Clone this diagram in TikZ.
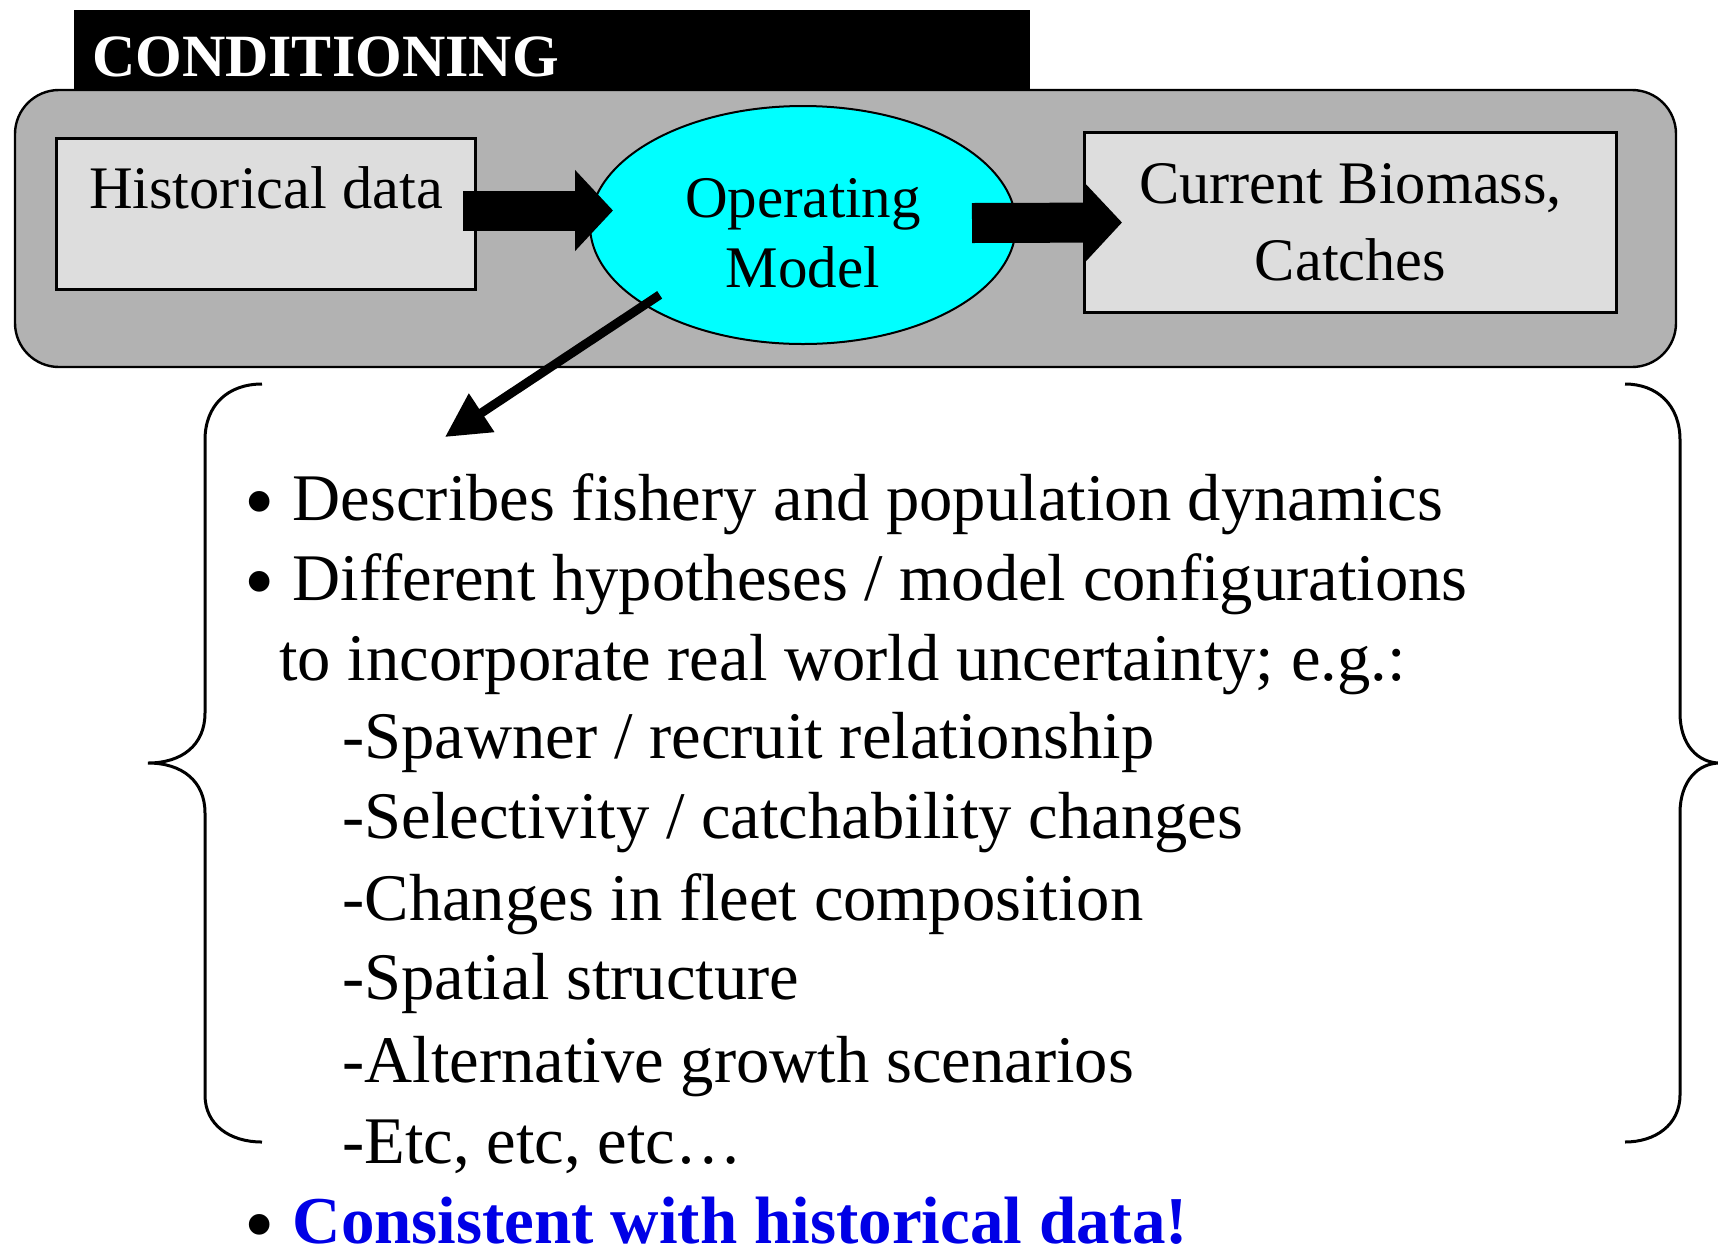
\documentclass[tikz,border=0pt]{standalone}
\usepackage{graphicx}
\usepackage{fontspec}
\setmainfont{Liberation Serif}
\usetikzlibrary{shapes.geometric,arrows.meta,calc,positioning}

\definecolor{panelgray}{RGB}{178,178,178}
\definecolor{boxgray}{RGB}{221,221,221}
\definecolor{modelcyan}{RGB}{0,255,255}
\definecolor{notblue}{RGB}{0,0,230}

\newcommand{\itembullet}{\raisebox{-0.16em}{\scalebox{1.3}{\textbullet}}\hspace{9pt}}

\begin{document}
\begin{tikzpicture}[x=0.5pt, y=-0.5pt]
  \tikzstyle{panel} = [rectangle, draw, line width=1.2pt, fill=panelgray,
  rounded corners=22pt, minimum width=830.5pt, minimum height=138.5pt, inner sep=0pt]
  \tikzstyle{titlebar} = [rectangle, fill=black, text=white, inner xsep=9pt, inner ysep=0pt,
  text width=460pt, minimum height=40pt, align=left, text height=27pt,
  font=\fontsize{30}{36}\selectfont\bfseries]
  \tikzstyle{databox} = [rectangle, draw, line width=1.5pt, fill=boxgray, inner sep=0pt,
  align=center, font=\fontsize{30.2}{38.5}\selectfont]
  \tikzstyle{model} = [ellipse, draw, line width=1pt, fill=modelcyan, inner sep=0pt,
  minimum width=213pt, minimum height=119pt, align=center, text height=63pt,
  font=\fontsize{29.5}{35}\selectfont]
  \tikzstyle{fatarrow} = [line width=20pt, -{Triangle[length=19pt, width=39.5pt]}]
  \tikzstyle{thinarrow} = [line width=4.5pt, -{Triangle[length=22pt, width=22pt]}]
  \tikzstyle{listitem} = [anchor=base west, inner sep=0pt, font=\fontsize{33.3}{40}\selectfont]
  \tikzstyle{bracket} = [line width=1.5pt]

  \useasboundingbox (0,0) rectangle (1718,1249);

  % Define nodes
  \node[panel] (panel) at (845.5,228.5) {};
  \node[titlebar] (title) at (552,50) {CONDITIONING};
  \node[databox, minimum width=209.5pt, minimum height=75.5pt, text depth=26.5pt]
    (hist) at (266,214) {Historical data};
  \node[model] (opmodel) at (803,225) {Operating\\Model};
  \node[databox, minimum width=266pt, minimum height=90pt]
    (catch) at (1350.5,222.5) {Current Biomass,\\Catches};
  \coordinate (listtop) at (445,437);

  \path [fatarrow] ($(hist.east)+(-7pt,1.75pt)$) edge ($(hist.east -| opmodel.west)+(12pt,1.75pt)$);
  \path [fatarrow] ($(opmodel.east)+(-22.5pt,1pt)$) edge ($(catch.west)+(19.5pt,0pt)$);
  \path [thinarrow] ($(opmodel.south west)+(4pt,7.5pt)$) edge (listtop);

  % Braces round the list
  \draw[bracket] (262,384) .. controls (228,384) and (205,405) .. (205,440) -- (205,713)
    .. controls (205,745) and (182,763) .. (148,763)
    .. controls (182,763) and (205,781) .. (205,813) -- (205,1095)
    .. controls (205,1125) and (230,1142) .. (262,1142);
  \draw[bracket] (1625,384) .. controls (1657,384) and (1680,405) .. (1680,440) -- (1680,713)
    .. controls (1680,745) and (1698,763) .. (1720,763)
    .. controls (1698,763) and (1680,781) .. (1680,813) -- (1680,1095)
    .. controls (1680,1125) and (1655,1142) .. (1625,1142);

  % List
  \node[listitem] (desc) at (244,520) {\itembullet Describes fishery and population dynamics};
  \node[listitem] (hyp) at (244,600) {\itembullet Different hypotheses / model configurations};
  \node[listitem] (unc) at (279,680) {to incorporate real world uncertainty; e.g.:};
  \node[listitem] (srr) at (342,758) {-Spawner / recruit relationship};
  \node[listitem] (sel) at (342,838) {-Selectivity / catchability changes};
  \node[listitem] (fleet) at (342,920) {-Changes in fleet composition};
  \node[listitem] (spatial) at (342,999) {-Spatial structure};
  \node[listitem] (growth) at (342,1082) {-Alternative growth scenarios};
  \node[listitem] (etc) at (342,1163) {-Etc, etc, etc…};
  \node[listitem] (consist) at (244,1243) {\itembullet\textcolor{notblue}{\fontsize{33.5}{40}\selectfont\bfseries Consistent with historical data!}};
\end{tikzpicture}
\end{document}
